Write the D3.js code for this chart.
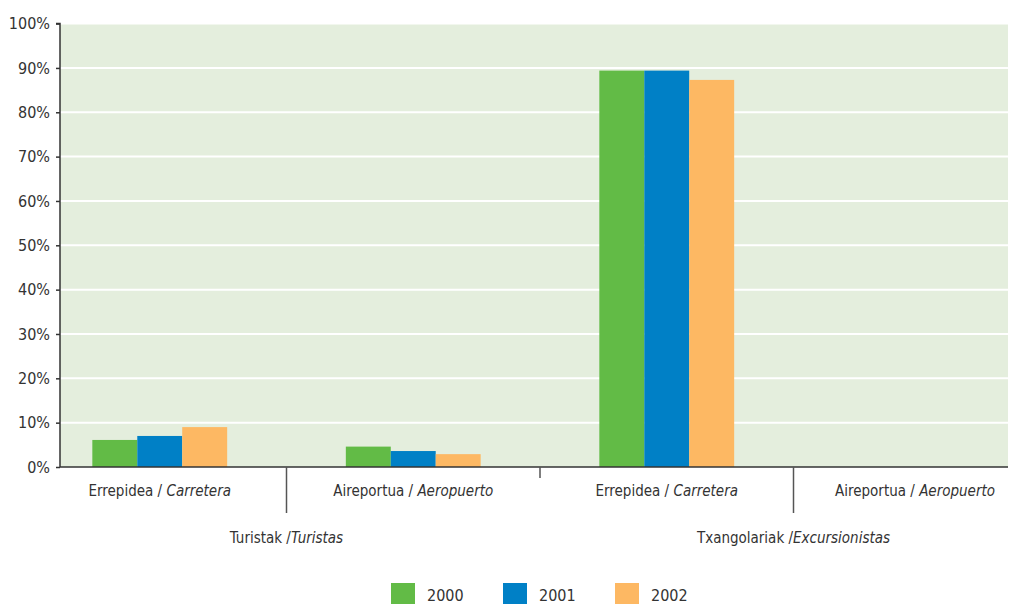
<!DOCTYPE html>
<html><head><meta charset="utf-8">
<script src="https://cdn.jsdelivr.net/npm/d3@7"></script>
<style>
body{margin:0;background:#fff;}
text{font-family:"DejaVu Sans Condensed","Liberation Sans Narrow",sans-serif;fill:#333;}
</style></head>
<body><svg id="c" width="1010" height="604"></svg>
<script>
const categories = ["Errepidea / |Carretera", "Aireportua / |Aeropuerto", "Errepidea / |Carretera", "Aireportua / |Aeropuerto"];
const groups = ["Turistak /|Turistas", "Txangolariak /|Excursionistas"];
const years = ["2000", "2001", "2002"];
const v2000 = [6.1, 4.6, 89.4, 0];
const v2001 = [7.0, 3.6, 89.4, 0];
const v2002 = [9.0, 2.9, 87.3, 0];
const yTicks = [0,10,20,30,40,50,60,70,80,90,100];
const colors = ["#62bb46", "#0080c6", "#fdb863"];

(function(){
const series = [v2000, v2001, v2002];
const svg = d3.select("#c");
const pL = 60, pR = 1008, pT = 23.6, pB = 467;

const y = d3.scaleLinear().domain([0,100]).range([pB, pT]);
const x = d3.scaleBand().domain(d3.range(categories.length)).range([33, 1047]).paddingInner(0).paddingOuter(0);
const xs = d3.scaleBand().domain(years).range([0, x.bandwidth()]).paddingInner(0).paddingOuter(1.32);

svg.append("rect").attr("x", pL).attr("y", pT).attr("width", pR-pL).attr("height", pB-pT).attr("fill", "#e4eedd");

svg.append("g").selectAll("line").data(yTicks.slice(1)).join("line")
  .attr("x1", pL).attr("x2", pR).attr("y1", d=>y(d)).attr("y2", d=>y(d))
  .attr("stroke", "#fff").attr("stroke-width", 2);

series.forEach((s, si) => {
  svg.append("g").selectAll("rect").data(s).join("rect")
    .attr("x", (d,i)=>x(i)+xs(years[si]))
    .attr("y", d=>y(d))
    .attr("width", xs.bandwidth())
    .attr("height", d=>pB - y(d))
    .attr("fill", colors[si]);
});

const yAxis = d3.axisLeft(y).tickValues(yTicks).tickFormat(d=>d+"%").tickSize(4).tickPadding(6);
const ya = svg.append("g").attr("transform", `translate(${pL},0)`).call(yAxis);
ya.select(".domain").attr("stroke", "#333").attr("stroke-width", 1.5).attr("d", `M-4,${pT}H0V${pB}`);
ya.selectAll(".tick line").attr("stroke", "#333").attr("stroke-width", 1.5);
ya.selectAll(".tick text").attr("font-size", 16).attr("fill", "#333").attr("dy", "0.32em")
  .style("font-family", '"DejaVu Sans Condensed","Liberation Sans Narrow",sans-serif');

svg.append("line").attr("x1", pL).attr("x2", pR).attr("y1", pB).attr("y2", pB)
  .attr("stroke", "#333").attr("stroke-width", 1.5);

const seps = [1,2,3];
svg.append("g").selectAll("line").data(seps).join("line")
  .attr("x1", d=>x(d)).attr("x2", d=>x(d))
  .attr("y1", pB).attr("y2", d=> d===2 ? pB+11 : pB+46)
  .attr("stroke", "#555").attr("stroke-width", 1.5);

function splitText(sel, str, xpos, ypos, anchor) {
  const parts = str.split("|");
  const t = sel.append("text").attr("x", xpos).attr("y", ypos).attr("text-anchor", anchor).attr("font-size", 15);
  t.append("tspan").text(parts[0]);
  t.append("tspan").attr("font-style", "italic").text(parts[1]);
}
categories.forEach((c,i)=> splitText(svg, c, Math.min(x(i)+x.bandwidth()/2, 915), 496, "middle"));
[1,3].forEach((sep, gi) => splitText(svg, groups[gi], x(sep), 543, "middle"));

const lg = svg.append("g");
years.forEach((yr, i) => {
  const lx = 391 + i*112;
  lg.append("rect").attr("x", lx).attr("y", 583).attr("width", 24).attr("height", 22).attr("fill", colors[i]);
  lg.append("text").attr("x", lx+36).attr("y", 601).attr("font-size", 16).text(yr);
});
})();
</script></body></html>
